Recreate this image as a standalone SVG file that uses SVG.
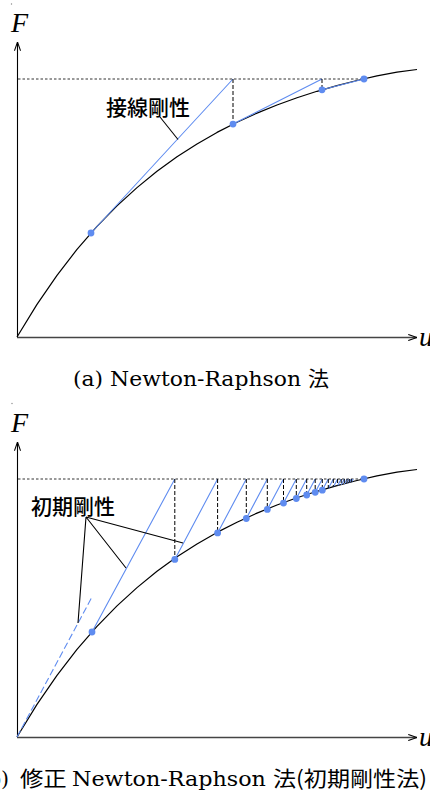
<svg xmlns="http://www.w3.org/2000/svg" width="430" height="791" viewBox="0 0 430 791">
<style>
  .axis{fill:none;stroke:#000;stroke-width:1.1}
  .xaxis{fill:none;stroke:#444;stroke-width:1.5}
  .curve{fill:none;stroke:#000;stroke-width:1.2;stroke-linejoin:round}
  .target{fill:none;stroke:#333;stroke-width:1;stroke-dasharray:2.5 2}
  .drop{fill:none;stroke:#000;stroke-width:1;stroke-dasharray:4 2}
  .blue{fill:none;stroke:#5f8cf0;stroke-width:1.1}
  .bluedash{fill:none;stroke:#5f8cf0;stroke-width:1.1;stroke-dasharray:7 3}
  .leader{fill:none;stroke:#000;stroke-width:1.1}
  .pt{fill:#5f8cf0}
  .var{font-family:"Liberation Serif","DejaVu Serif",serif;font-style:italic;font-size:28px;fill:#000}
  .lab{font-family:"Noto Sans CJK JP","Noto Sans",sans-serif;font-weight:500;font-size:21px;fill:#000}
  .cap{font-family:"DejaVu Serif","Liberation Serif","Noto Sans CJK JP",serif;font-size:20.5px;fill:#000}
  .capj{font-family:"Noto Sans CJK JP","Noto Sans",sans-serif;font-size:21px}
  .speck{fill:#888}
</style>
<defs>
  <marker id="arr" viewBox="0 0 10 8" refX="10" refY="4" markerUnits="userSpaceOnUse" markerWidth="9" markerHeight="7" orient="auto">
    <path d="M0,0.5 L10,4 L0,7.5" fill="none" stroke="#000" stroke-width="1.2"/>
  </marker>
  <path id="curveA" d="M17,337 L37,304.4 L57,275.3 L77,249.4 L97,226.4 L117,205.9 L137,187.6 L157,171.3 L177,156.8 L197,143.9 L217,132.4 L237,122.2 L257,113.1 L277,105 L297,97.7 L317,91.3 L337,85.6 L357,80.5 L377,75.9 L397,72.2 L417,69.5"/>
</defs>

<!-- (a) Newton-Raphson -->
<g id="plot-a">
  <circle class="speck" cx="11.5" cy="4" r="0.7"/>
  <g id="axes-a">
    <line class="axis" x1="17.5" y1="337.5" x2="17.5" y2="42" marker-end="url(#arr)"/>
    <line class="xaxis" x1="17" y1="337.5" x2="417" y2="337.5" marker-end="url(#arr)"/>
    <text class="var" x="11" y="32">F</text>
    <text class="var" x="419" y="346">u</text>
  </g>
  <use href="#curveA" class="curve"/>
  <g id="connectors-a">
    <line class="target" x1="18" y1="79" x2="364" y2="79"/>
    <path class="blue" d="M91,233 L233,79 M233,124.1 L322,79 M322,89.8 L364,79"/>
    <path class="drop" d="M233,79 L233,124.1 M322,79 L322,89.8"/>
    <line class="leader" x1="160" y1="117" x2="178" y2="139.5"/>
  </g>
  <g id="points-a">
    <circle class="pt" cx="91" cy="233" r="3.4"/>
    <circle class="pt" cx="233" cy="124.1" r="3.4"/>
    <circle class="pt" cx="322" cy="89.8" r="3.4"/>
    <circle class="pt" cx="364" cy="79" r="3.4"/>
  </g>
  <text id="label-tangent" class="lab" x="148" y="115" text-anchor="middle">接線剛性</text>
  <text id="caption-a" class="cap" y="386"><tspan x="73" textLength="235" lengthAdjust="spacingAndGlyphs">(a) Newton-Raphson </tspan><tspan x="308" class="capj">法</tspan></text>
</g>

<!-- (b) Modified Newton-Raphson -->
<g id="plot-b">
  <circle class="speck" cx="12" cy="403.5" r="0.7"/>
  <g id="axes-b">
    <line class="axis" x1="17.5" y1="737.5" x2="17.5" y2="442" marker-end="url(#arr)"/>
    <line class="xaxis" x1="17" y1="737.5" x2="417" y2="737.5" marker-end="url(#arr)"/>
    <text class="var" x="11" y="432">F</text>
    <text class="var" x="419" y="746">u</text>
  </g>
  <use href="#curveA" class="curve" transform="translate(0,400)"/>
  <g id="connectors-b">
    <line class="target" x1="18" y1="479" x2="364" y2="479"/>
    <line class="bluedash" x1="17" y1="737" x2="92" y2="597"/>
    <path class="blue" d="M92,632 L174.8,479 M174.8,559.4 L217.6,479 M217.6,532.9 L246.3,479 M246.3,518.5 L267.3,479 M267.3,509.4 L283.5,479 M283.5,503.1 L296.3,479 M296.3,498.5 L306.7,479 M306.7,495 L315.2,479 M315.2,492.3 L322.3,479 M322.3,490.2 L328.3,479 M328.3,488.4 L333.3,479 M333.3,487 L337.6,479 M337.6,485.8 L341.2,479 M341.2,484.8 L344.3,479 M344.3,484 L347,479 M347,483.3 L349.3,479 M349.3,482.7 L351.3,479 M351.3,482.2 L353,479"/>
    <path class="drop" d="M174.8,479 L174.8,559.4 M217.6,479 L217.6,532.9 M246.3,479 L246.3,518.5 M267.3,479 L267.3,509.4 M283.5,479 L283.5,503.1 M296.3,479 L296.3,498.5 M306.7,479 L306.7,495 M315.2,479 L315.2,492.3 M322.3,479 L322.3,490.2 M328.3,479 L328.3,488.4 M333.3,479 L333.3,487 M337.6,479 L337.6,485.8 M341.2,479 L341.2,484.8 M344.3,479 L344.3,484 M347,479 L347,483.3 M349.3,479 L349.3,482.7 M351.3,479 L351.3,482.2"/>
    <path class="leader" d="M86,517 L78,623 M86,517 L126,568 M86,517 L183,543"/>
  </g>
  <g id="points-b">
    <circle class="pt" cx="92" cy="632" r="3.4"/>
    <circle class="pt" cx="174.8" cy="559.4" r="3.4"/>
    <circle class="pt" cx="217.6" cy="532.9" r="3.4"/>
    <circle class="pt" cx="246.3" cy="518.5" r="3.4"/>
    <circle class="pt" cx="267.3" cy="509.4" r="3.4"/>
    <circle class="pt" cx="283.5" cy="503.1" r="3.4"/>
    <circle class="pt" cx="296.3" cy="498.5" r="3.4"/>
    <circle class="pt" cx="306.7" cy="495" r="3.4"/>
    <circle class="pt" cx="315.2" cy="492.3" r="3.4"/>
    <circle class="pt" cx="322.3" cy="490.2" r="3.4"/>
    <circle class="pt" cx="364" cy="479" r="3.4"/>
  </g>
  <text id="label-initial" class="lab" x="73" y="514" text-anchor="middle">初期剛性</text>
  <text id="caption-b" class="cap" y="786"><tspan x="-20">(b) </tspan><tspan x="20" class="capj" textLength="52" lengthAdjust="spacingAndGlyphs">修正 </tspan><tspan x="72" textLength="201" lengthAdjust="spacingAndGlyphs">Newton-Raphson </tspan><tspan x="273" class="capj" textLength="154" lengthAdjust="spacingAndGlyphs">法(初期剛性法)</tspan></text>
</g>
</svg>
